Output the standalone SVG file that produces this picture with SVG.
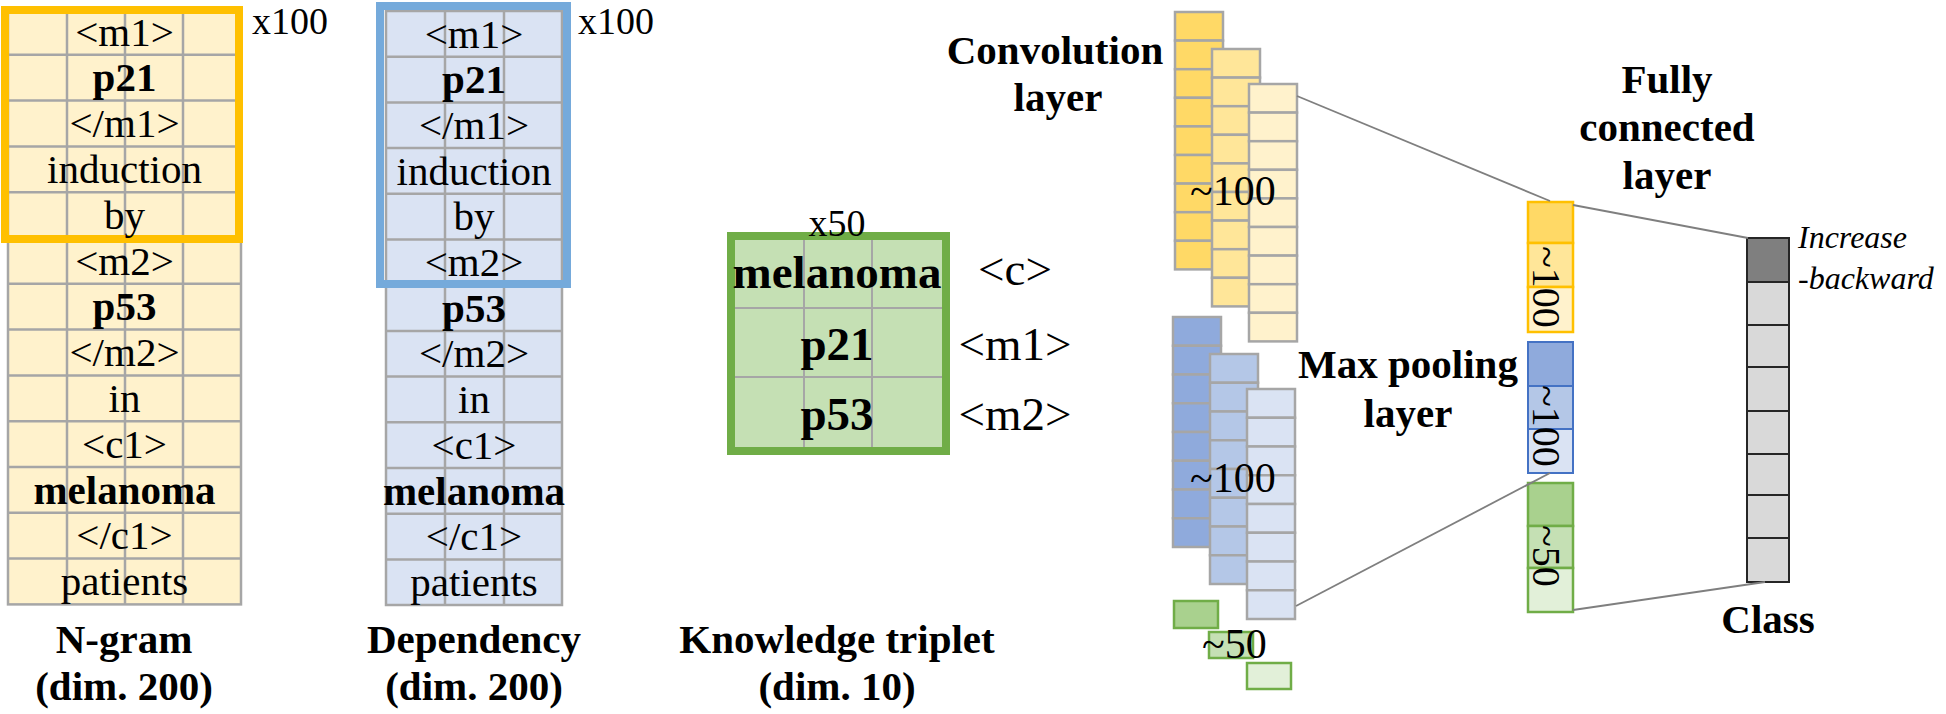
<svg xmlns="http://www.w3.org/2000/svg" width="1946" height="714" viewBox="0 0 1946 714">
<style>
.t{font-family:"Liberation Serif","Times New Roman",serif;font-size:41px;fill:#000;text-anchor:middle}
.tb{font-family:"Liberation Serif","Times New Roman",serif;font-size:47px;fill:#000;text-anchor:middle}
.b{font-weight:bold}
.lab{font-family:"Liberation Serif","Times New Roman",serif;font-size:41px;font-weight:bold;fill:#000;text-anchor:middle}
.sm{font-family:"Liberation Serif","Times New Roman",serif;font-size:38px;fill:#000}
.dim{font-family:"Liberation Serif","Times New Roman",serif;font-size:42px;fill:#000}
.rot{font-family:"Liberation Serif","Times New Roman",serif;font-size:40px;fill:#000;text-anchor:middle}
.it{font-family:"Liberation Serif","Times New Roman",serif;font-size:32px;font-style:italic;fill:#000}
.grid{stroke:#A6A6A6;stroke-width:2.5}
.cell{stroke:#A6A6A6;stroke-width:2.5}
.conn{stroke:#7F7F7F;stroke-width:1.8;fill:none}
</style>

<!-- N-gram table -->
<g id="ngram">
<rect x="8" y="9" width="233" height="595.4" fill="#FFF2CC" class="grid"/>
<g class="grid">
<line x1="67" y1="9" x2="67" y2="604.4"/><line x1="125" y1="9" x2="125" y2="604.4"/><line x1="183" y1="9" x2="183" y2="604.4"/>
<line x1="8" y1="54.8" x2="241" y2="54.8"/><line x1="8" y1="100.6" x2="241" y2="100.6"/><line x1="8" y1="146.4" x2="241" y2="146.4"/>
<line x1="8" y1="192.2" x2="241" y2="192.2"/><line x1="8" y1="238" x2="241" y2="238"/><line x1="8" y1="283.8" x2="241" y2="283.8"/>
<line x1="8" y1="329.6" x2="241" y2="329.6"/><line x1="8" y1="375.4" x2="241" y2="375.4"/><line x1="8" y1="421.2" x2="241" y2="421.2"/>
<line x1="8" y1="467" x2="241" y2="467"/><line x1="8" y1="512.8" x2="241" y2="512.8"/><line x1="8" y1="558.6" x2="241" y2="558.6"/>
</g>
<rect x="5" y="10" width="234" height="229" fill="none" stroke="#FFC000" stroke-width="8"/>
<text class="t" x="124.5" y="45.5">&lt;m1&gt;</text>
<text class="t b" x="124.5" y="91.3">p21</text>
<text class="t" x="124.5" y="137.1">&lt;/m1&gt;</text>
<text class="t" x="124.5" y="182.9">induction</text>
<text class="t" x="124.5" y="228.7">by</text>
<text class="t" x="124.5" y="274.5">&lt;m2&gt;</text>
<text class="t b" x="124.5" y="320.3">p53</text>
<text class="t" x="124.5" y="366.1">&lt;/m2&gt;</text>
<text class="t" x="124.5" y="411.9">in</text>
<text class="t" x="124.5" y="457.7">&lt;c1&gt;</text>
<text class="t b" x="124.5" y="503.5">melanoma</text>
<text class="t" x="124.5" y="549.3">&lt;/c1&gt;</text>
<text class="t" x="124.5" y="595.1">patients</text>
<text class="sm" x="252" y="34">x100</text>
<text class="lab" x="124" y="653">N-gram</text>
<text class="lab" x="124" y="700">(dim. 200)</text>
</g>

<!-- Dependency table -->
<g id="dependency">
<rect x="386" y="11" width="176" height="594" fill="#DAE3F3" class="grid"/>
<g class="grid">
<line x1="445" y1="11" x2="445" y2="605"/><line x1="504" y1="11" x2="504" y2="605"/>
<line x1="386" y1="56.7" x2="562" y2="56.7"/><line x1="386" y1="102.4" x2="562" y2="102.4"/><line x1="386" y1="148" x2="562" y2="148"/>
<line x1="386" y1="193.8" x2="562" y2="193.8"/><line x1="386" y1="239.5" x2="562" y2="239.5"/><line x1="386" y1="285.2" x2="562" y2="285.2"/>
<line x1="386" y1="331" x2="562" y2="331"/><line x1="386" y1="376.6" x2="562" y2="376.6"/><line x1="386" y1="422.3" x2="562" y2="422.3"/>
<line x1="386" y1="468" x2="562" y2="468"/><line x1="386" y1="513.7" x2="562" y2="513.7"/><line x1="386" y1="559.4" x2="562" y2="559.4"/>
</g>
<rect x="380" y="6" width="187" height="278" fill="none" stroke="#75AADB" stroke-width="8"/>
<text class="t" x="474" y="47.5">&lt;m1&gt;</text>
<text class="t b" x="474" y="93.2">p21</text>
<text class="t" x="474" y="138.9">&lt;/m1&gt;</text>
<text class="t" x="474" y="184.6">induction</text>
<text class="t" x="474" y="230.3">by</text>
<text class="t" x="474" y="276">&lt;m2&gt;</text>
<text class="t b" x="474" y="321.7">p53</text>
<text class="t" x="474" y="367.4">&lt;/m2&gt;</text>
<text class="t" x="474" y="413.1">in</text>
<text class="t" x="474" y="458.8">&lt;c1&gt;</text>
<text class="t b" x="474" y="504.5">melanoma</text>
<text class="t" x="474" y="550.2">&lt;/c1&gt;</text>
<text class="t" x="474" y="595.9">patients</text>
<text class="sm" x="578" y="34">x100</text>
<text class="lab" x="474" y="653">Dependency</text>
<text class="lab" x="474" y="700">(dim. 200)</text>
</g>

<!-- Knowledge triplet -->
<g id="triplet">
<rect x="731" y="236" width="215" height="215" fill="#C5E0B4" stroke="#70AD47" stroke-width="8"/>
<g class="grid" style="stroke-width:2">
<line x1="804" y1="240" x2="804" y2="447"/><line x1="872" y1="240" x2="872" y2="447"/>
<line x1="735" y1="308" x2="942" y2="308"/><line x1="735" y1="377" x2="942" y2="377"/>
</g>
<text class="tb b" x="837" y="288">melanoma</text>
<text class="tb b" x="837" y="360">p21</text>
<text class="tb b" x="837" y="430">p53</text>
<text class="sm" x="837" y="236" text-anchor="middle">x50</text>
<text class="tb" x="1015" y="285">&lt;c&gt;</text>
<text class="tb" x="1015" y="360">&lt;m1&gt;</text>
<text class="tb" x="1015" y="430">&lt;m2&gt;</text>
<text class="lab" x="837" y="653">Knowledge triplet</text>
<text class="lab" x="837" y="700">(dim. 10)</text>
</g>

<!-- Convolution layer -->
<g id="conv">
<g class="cell" fill="#FFD966">
<rect x="1175" y="12" width="48" height="28.6"/><rect x="1175" y="40.6" width="48" height="28.6"/><rect x="1175" y="69.2" width="48" height="28.6"/>
<rect x="1175" y="97.8" width="48" height="28.6"/><rect x="1175" y="126.4" width="48" height="28.6"/><rect x="1175" y="155" width="48" height="28.6"/>
<rect x="1175" y="183.6" width="48" height="28.6"/><rect x="1175" y="212.2" width="48" height="28.6"/><rect x="1175" y="240.8" width="48" height="28.6"/>
</g>
<g class="cell" fill="#FFE699">
<rect x="1212" y="49" width="48" height="28.6"/><rect x="1212" y="77.6" width="48" height="28.6"/><rect x="1212" y="106.2" width="48" height="28.6"/>
<rect x="1212" y="134.8" width="48" height="28.6"/><rect x="1212" y="163.4" width="48" height="28.6"/><rect x="1212" y="192" width="48" height="28.6"/>
<rect x="1212" y="220.6" width="48" height="28.6"/><rect x="1212" y="249.2" width="48" height="28.6"/><rect x="1212" y="277.8" width="48" height="28.6"/>
</g>
<g class="cell" fill="#FFF2CC">
<rect x="1249" y="84" width="48" height="28.6"/><rect x="1249" y="112.6" width="48" height="28.6"/><rect x="1249" y="141.2" width="48" height="28.6"/>
<rect x="1249" y="169.8" width="48" height="28.6"/><rect x="1249" y="198.4" width="48" height="28.6"/><rect x="1249" y="227" width="48" height="28.6"/>
<rect x="1249" y="255.6" width="48" height="28.6"/><rect x="1249" y="284.2" width="48" height="28.6"/><rect x="1249" y="312.8" width="48" height="28.6"/>
</g>
<text class="dim" x="1190" y="205">~100</text>
<text class="lab" x="1055" y="64">Convolution</text>
<text class="lab" x="1058" y="111">layer</text>
</g>

<!-- Max pooling layer -->
<g id="pool">
<g class="cell" fill="#8FAADC">
<rect x="1173" y="317" width="48" height="28.75"/><rect x="1173" y="345.75" width="48" height="28.75"/><rect x="1173" y="374.5" width="48" height="28.75"/>
<rect x="1173" y="403.25" width="48" height="28.75"/><rect x="1173" y="432" width="48" height="28.75"/><rect x="1173" y="460.75" width="48" height="28.75"/>
<rect x="1173" y="489.5" width="48" height="28.75"/><rect x="1173" y="518.25" width="48" height="28.75"/>
</g>
<g class="cell" fill="#B4C7E7">
<rect x="1210" y="354" width="48" height="28.75"/><rect x="1210" y="382.75" width="48" height="28.75"/><rect x="1210" y="411.5" width="48" height="28.75"/>
<rect x="1210" y="440.25" width="48" height="28.75"/><rect x="1210" y="469" width="48" height="28.75"/><rect x="1210" y="497.75" width="48" height="28.75"/>
<rect x="1210" y="526.5" width="48" height="28.75"/><rect x="1210" y="555.25" width="48" height="28.75"/>
</g>
<g class="cell" fill="#DAE3F3">
<rect x="1247" y="389" width="48" height="28.75"/><rect x="1247" y="417.75" width="48" height="28.75"/><rect x="1247" y="446.5" width="48" height="28.75"/>
<rect x="1247" y="475.25" width="48" height="28.75"/><rect x="1247" y="504" width="48" height="28.75"/><rect x="1247" y="532.75" width="48" height="28.75"/>
<rect x="1247" y="561.5" width="48" height="28.75"/><rect x="1247" y="590.25" width="48" height="28.75"/>
</g>
<text class="dim" x="1190" y="492">~100</text>
<g stroke="#70AD47" stroke-width="2.5">
<rect x="1174" y="601" width="44" height="27" fill="#A9D18E"/>
<rect x="1209" y="632" width="44" height="26" fill="#C5E0B4"/>
<rect x="1247" y="663" width="44" height="26" fill="#E2F0D9"/>
</g>
<text class="dim" x="1202" y="658">~50</text>
<text class="lab" x="1408" y="378">Max pooling</text>
<text class="lab" x="1408" y="427">layer</text>
</g>

<!-- Fully connected layer -->
<g id="fc">
<g stroke="#FFC000" stroke-width="2.5">
<rect x="1528" y="202" width="45" height="41" fill="#FFD966"/>
<rect x="1528" y="243" width="45" height="44" fill="#FFE699"/>
<rect x="1528" y="287" width="45" height="45" fill="#FFF2CC"/>
</g>
<g stroke="#4472C4" stroke-width="2">
<rect x="1528" y="342" width="45" height="44" fill="#8FAADC"/>
<rect x="1528" y="386" width="45" height="43" fill="#B4C7E7"/>
<rect x="1528" y="429" width="45" height="44" fill="#DAE3F3"/>
</g>
<g stroke="#70AD47" stroke-width="2.5">
<rect x="1528" y="483" width="45" height="43" fill="#A9D18E"/>
<rect x="1528" y="526" width="45" height="42" fill="#C5E0B4"/>
<rect x="1528" y="568" width="45" height="44" fill="#E2F0D9"/>
</g>
<text class="rot" transform="translate(1533,287) rotate(90)">~100</text>
<text class="rot" transform="translate(1533,426) rotate(90)">~100</text>
<text class="rot" transform="translate(1533,556) rotate(90)">~50</text>
<text class="lab" x="1667" y="93">Fully</text>
<text class="lab" x="1667" y="141">connected</text>
<text class="lab" x="1667" y="189">layer</text>
</g>

<!-- Class -->
<g id="class">
<g stroke="#262626" stroke-width="2">
<rect x="1747" y="238" width="42" height="44" fill="#7F7F7F"/>
<rect x="1747" y="282" width="42" height="43" fill="#D9D9D9"/>
<rect x="1747" y="325" width="42" height="42" fill="#D9D9D9"/>
<rect x="1747" y="367" width="42" height="44" fill="#D9D9D9"/>
<rect x="1747" y="411" width="42" height="43" fill="#D9D9D9"/>
<rect x="1747" y="454" width="42" height="41" fill="#D9D9D9"/>
<rect x="1747" y="495" width="42" height="43" fill="#D9D9D9"/>
<rect x="1747" y="538" width="42" height="44" fill="#D9D9D9"/>
</g>
<text class="it" x="1798" y="248">Increase</text>
<text class="it" x="1798" y="289">-backward</text>
<text class="lab" x="1768" y="633">Class</text>
</g>

<!-- Connectors -->
<g id="connectors" class="conn">
<line x1="1297" y1="96" x2="1550" y2="201"/>
<line x1="1573" y1="205" x2="1748" y2="238"/>
<line x1="1296" y1="606" x2="1550" y2="473"/>
<line x1="1573" y1="610" x2="1765" y2="582"/>
</g>
</svg>
